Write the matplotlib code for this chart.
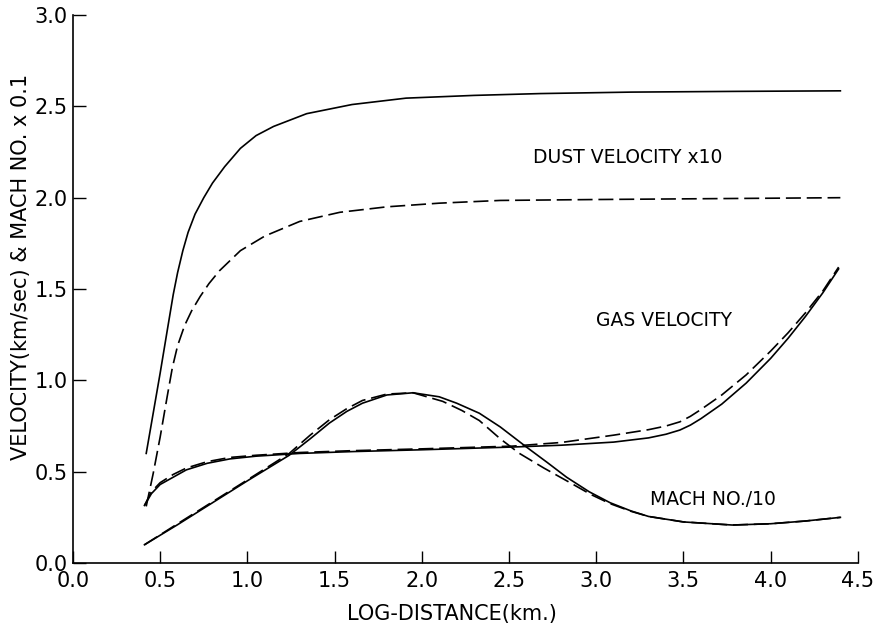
import matplotlib
matplotlib.use("Agg")
import matplotlib.pyplot as plt

# ---------------- data ----------------
dust_solid_x = [0.42, 0.46, 0.50, 0.54, 0.575, 0.60, 0.63, 0.66, 0.70, 0.75, 0.80,
                0.87, 0.96, 1.05, 1.15, 1.34, 1.60, 1.91, 2.30, 2.68, 3.20, 3.80, 4.40]
dust_solid_y = [0.60, 0.82, 1.04, 1.27, 1.47, 1.59, 1.71, 1.81, 1.91, 2.00, 2.08,
                2.17, 2.27, 2.34, 2.39, 2.46, 2.51, 2.545, 2.56, 2.57, 2.578, 2.582, 2.585]

dust_dash_x = [0.42, 0.46, 0.50, 0.54, 0.57, 0.60, 0.64, 0.68, 0.73, 0.78, 0.84,
               0.96, 1.10, 1.30, 1.53, 1.80, 2.10, 2.45, 3.00, 3.70, 4.40]
dust_dash_y = [0.31, 0.49, 0.69, 0.91, 1.07, 1.19, 1.30, 1.38, 1.46, 1.53, 1.60,
               1.71, 1.79, 1.87, 1.92, 1.95, 1.97, 1.985, 1.99, 1.995, 2.00]

gas_solid_x = [0.41, 0.45, 0.50, 0.575, 0.65, 0.77, 0.90, 1.05, 1.30, 1.60, 2.00,
               2.52, 2.80, 3.10, 3.30, 3.40, 3.48, 3.54, 3.60, 3.72, 3.86, 4.00, 4.10,
               4.20, 4.30, 4.39]
gas_solid_y = [0.315, 0.38, 0.43, 0.47, 0.51, 0.546, 0.57, 0.585, 0.60, 0.61, 0.62,
               0.635, 0.645, 0.662, 0.685, 0.705, 0.728, 0.755, 0.79, 0.87, 0.985, 1.12, 1.23,
               1.35, 1.48, 1.61]

gas_dash_x = [0.41, 0.45, 0.50, 0.575, 0.65, 0.77, 0.90, 1.05, 1.30, 1.60, 2.00,
              2.52, 2.80, 3.10, 3.30, 3.40, 3.48, 3.54, 3.60, 3.72, 3.86, 4.00, 4.10,
              4.20, 4.30, 4.39]
gas_dash_y = [0.315, 0.39, 0.44, 0.485, 0.52, 0.555, 0.578, 0.59, 0.605, 0.615, 0.625,
              0.64, 0.66, 0.70, 0.73, 0.75, 0.773, 0.803, 0.84, 0.92, 1.03, 1.16, 1.26,
              1.37, 1.49, 1.62]

mach_solid_x = [0.41, 0.60, 0.80, 1.00, 1.24, 1.36, 1.47, 1.57, 1.66, 1.80, 1.95, 2.10, 2.20,
                2.33, 2.45, 2.60, 2.72, 2.83, 2.96, 3.08, 3.20, 3.30, 3.50, 3.78,
                4.00, 4.20, 4.40]
mach_solid_y = [0.10, 0.21, 0.33, 0.45, 0.59, 0.68, 0.766, 0.83, 0.875, 0.92, 0.932, 0.91, 0.875,
                0.82, 0.745, 0.635, 0.55, 0.47, 0.39, 0.33, 0.285, 0.255, 0.225, 0.208,
                0.215, 0.23, 0.25]

mach_dash_x = [0.41, 0.60, 0.80, 1.00, 1.24, 1.36, 1.47, 1.57, 1.66, 1.80, 1.95, 2.12, 2.23,
               2.33, 2.45, 2.56, 2.70, 2.85, 2.97, 3.08, 3.20, 3.30, 3.50, 3.78,
               4.00, 4.20, 4.40]
mach_dash_y = [0.10, 0.215, 0.335, 0.455, 0.60, 0.70, 0.784, 0.845, 0.89, 0.925, 0.932, 0.885, 0.835,
               0.78, 0.68, 0.60, 0.52, 0.44, 0.375, 0.325, 0.283, 0.255, 0.225, 0.208,
               0.215, 0.23, 0.25]

x_ticks = [0.0, 0.5, 1.0, 1.5, 2.0, 2.5, 3.0, 3.5, 4.0, 4.5]
y_ticks = [0.0, 0.5, 1.0, 1.5, 2.0, 2.5, 3.0]

labels = ["DUST VELOCITY x10", "GAS VELOCITY", "MACH NO./10"]
label_x = [2.64, 3.00, 3.31]
label_y = [2.22, 1.33, 0.35]

# ---------------- figure ----------------
plt.rcParams['font.family'] = ['DejaVu Sans']
fig = plt.figure(figsize=(8.78, 6.26), dpi=100)
ax = fig.add_axes([0.0831, 0.1006, 0.8939, 0.8754])

lw = 1.2
dash = (9, 3.5)
ax.plot(dust_solid_x, dust_solid_y, color='black', lw=lw)
ax.plot(dust_dash_x, dust_dash_y, color='black', lw=lw, dashes=dash)
ax.plot(gas_solid_x, gas_solid_y, color='black', lw=lw)
ax.plot(gas_dash_x, gas_dash_y, color='black', lw=lw, dashes=dash)
ax.plot(mach_solid_x, mach_solid_y, color='black', lw=lw)
ax.plot(mach_dash_x, mach_dash_y, color='black', lw=lw, dashes=dash)

for t, xx, yy in zip(labels, label_x, label_y):
    ax.text(xx, yy, t, fontsize=13.5, ha='left', va='center')

ax.set_xlim(0, 4.5)
ax.set_ylim(0, 3.0)
ax.set_xticks(x_ticks)
ax.set_yticks(y_ticks)
ax.set_xticklabels([f"{v:.1f}" for v in x_ticks])
ax.set_yticklabels([f"{v:.1f}" for v in y_ticks])
ax.tick_params(direction='in', length=9, width=1.0, labelsize=15, pad=6)
ax.tick_params(axis='y', pad=4)
ax.spines['top'].set_visible(False)
ax.spines['right'].set_visible(False)
for s in ('left', 'bottom'):
    ax.spines[s].set_linewidth(1.2)

ax.set_xlabel("LOG-DISTANCE(km.)", fontsize=15)
ax.xaxis.set_label_coords(0.483, -0.075, transform=ax.transAxes)
ax.xaxis.label.set_va('top')
ax.set_ylabel("VELOCITY(km/sec) & MACH NO. x 0.1", fontsize=15)
ax.yaxis.set_label_coords(-0.053, 0.54, transform=ax.transAxes)

fig.savefig("out.png", dpi=100)
